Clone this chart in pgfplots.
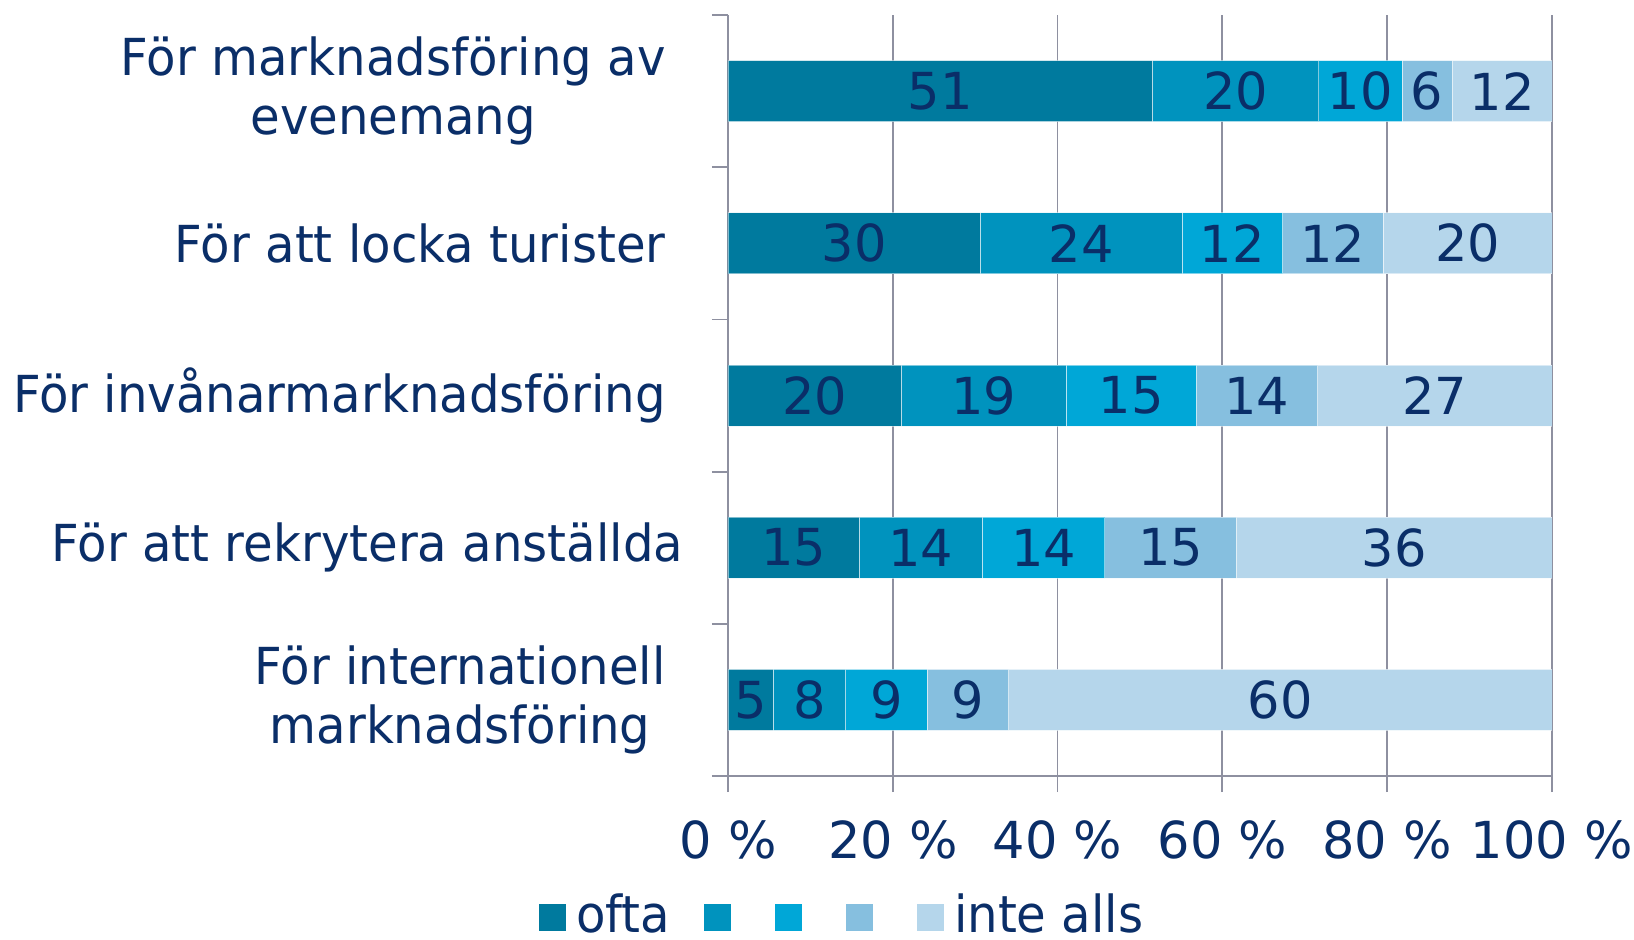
\documentclass[border=0pt]{standalone}
\usepackage{fontspec}
\setmainfont{DejaVu Sans}
\newfontfamily\narrowf[FakeStretch=0.945]{DejaVu Sans}
\usepackage{pgfplots}
\pgfplotsset{compat=1.18}
\usepackage{pgfplotstable}
\definecolor{c1}{HTML}{007A9E}
\definecolor{c2}{HTML}{0093BE}
\definecolor{c3}{HTML}{00A7D7}
\definecolor{c4}{HTML}{86BFDF}
\definecolor{c5}{HTML}{B5D6EB}
\definecolor{txt}{HTML}{0A2E68}
\definecolor{gridc}{HTML}{8E90A0}
\newcommand{\bigf}{\fontsize{25.5}{29.5}\selectfont}

% normalised share (x) and printed value (lab); y = row (0 = top)
\pgfplotstableread{
y x lab
0 51.5 51
1 30.6 30
2 21.05 20
3 15.96 15
4 5.49 5
}\sone
\pgfplotstableread{
y x lab
0 20.2 20
1 24.5 24
2 20.0 19
3 14.89 14
4 8.79 8
}\stwo
\pgfplotstableread{
y x lab
0 10.1 10
1 12.2 12
2 15.8 15
3 14.89 14
4 9.89 9
}\sthree
\pgfplotstableread{
y x lab
0 6.1 6
1 12.2 12
2 14.7 14
3 15.96 15
4 9.89 9
}\sfour
\pgfplotstableread{
y x lab
0 12.1 12
1 20.5 20
2 28.45 27
3 38.3 36
4 65.94 60
}\sfive

\begin{document}
\begin{tikzpicture}
\path[use as bounding box] (-364pt,-81.5pt) rectangle (453pt,388pt);
\begin{axis}[
  at={(0,0)}, anchor=south west,
  scale only axis, width=412pt, height=380.5pt,
  xbar stacked, bar width=30.5pt,
  xmin=0, xmax=100, ymin=-0.5, ymax=4.5, y dir=reverse,
  enlargelimits=false,
  axis x line*=bottom, axis y line*=left,
  axis line style={draw=gridc, line width=0.9pt},
  xtick={0,20,40,60,80,100},
  xticklabels={0 \%,20 \%,40 \%,60 \%,80 \%,100 \%},
  xmajorgrids, grid style={draw=gridc, line width=0.9pt},
  ytick={0,1,2,3,4},
  yticklabels={{För marknadsföring av\\evenemang},{För att locka turister},{För invånarmarknadsföring},{\makebox[\dimexpr\width-8.9pt\relax][l]{För att rekrytera anställda}},{För internationell\\marknadsföring}},
  minor ytick={-0.5,0.5,1.5,2.5,3.5,4.5},
  tick align=outside, major tick length=8pt, minor tick length=8pt,
  major x tick style={draw=gridc, line width=0.9pt},
  major y tick style={draw=none},
  minor y tick style={draw=gridc, line width=0.9pt},
  yticklabel style={align=center, font=\narrowf\bigf, text=txt, inner sep=0pt, xshift=-23pt},
  xticklabel style={font=\bigf, text=txt, inner sep=0pt, yshift=-14pt},
  /pgf/number format/assume math mode=true,
  point meta=explicit,
  nodes near coords={\pgfmathprintnumber{\pgfplotspointmeta}},
  every node near coord/.append style={anchor=center, text=txt, font=\bigf, inner sep=0pt},
  every axis plot/.append style={draw=white, draw opacity=0.5, line width=0.4pt},
  legend columns=5,
  legend style={at={(0.141,-0.182)}, anchor=center, draw=none, fill=none, font=\narrowf\bigf, text=txt,
    nodes={inner xsep=3pt, inner ysep=0pt},
    /tikz/every odd column/.append style={column sep=2pt},
    /tikz/every even column/.append style={column sep=14pt}},
  legend image code/.code={\fill[#1,draw=none] (0pt,-8pt) rectangle (13.5pt,5.5pt);},
]
\addplot[fill=c1] table[x=x, y=y, meta=lab] {\sone};
\addplot[fill=c2] table[x=x, y=y, meta=lab] {\stwo};
\addplot[fill=c3] table[x=x, y=y, meta=lab] {\sthree};
\addplot[fill=c4] table[x=x, y=y, meta=lab] {\sfour};
\addplot[fill=c5] table[x=x, y=y, meta=lab] {\sfive};
\addlegendentry{ofta}
\addlegendentry{}
\addlegendentry{}
\addlegendentry{}
\addlegendentry{inte alls}
\end{axis}
\end{tikzpicture}
\end{document}
